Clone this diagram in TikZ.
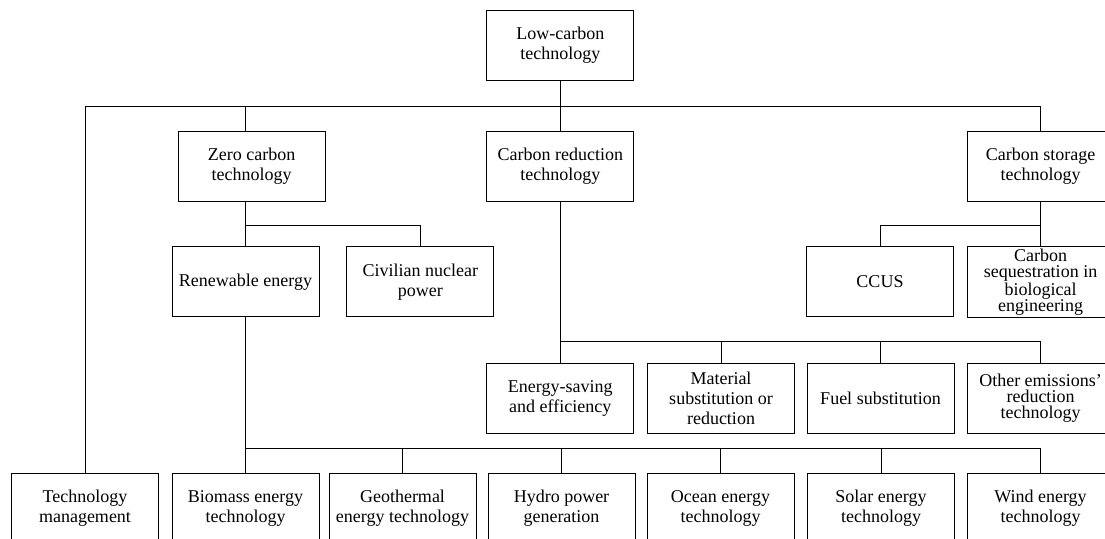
\documentclass[tikz,border=0pt]{standalone}
\usepackage{fontspec}
\setmainfont{Liberation Serif}
\begin{document}
\begin{tikzpicture}[x=0.5pt, y=-0.5pt, line width=0.5pt,
		box/.style={draw, rectangle, minimum width=73.5pt, minimum height=35pt, inner sep=1pt, align=center, font=\fontsize{9}{10}\selectfont},
		tight/.style={font=\fontsize{9}{8}\selectfont}]
		\useasboundingbox (0,0) rectangle (1105,539);
		\clip (0,0) rectangle (1105,539);
		% \draw[help lines, step=50] (0,0) grid (1105,539);

		% bus levels
		\coordinate (b1) at (0,106.7);
		\coordinate (b2) at (0,225.3);
		\coordinate (b3) at (0,341.7);
		\coordinate (b4) at (0,449);

		\node[box] (top) at (560.3,45.5) {Low-carbon\\technology};
		\node[box] (zero) at (251.7,166.7) {Zero carbon\\technology};
		\node[box] (cred) at (560.3,166.7) {Carbon reduction\\technology};
		\node[box] (cstor) at (1040.5,166.7) {Carbon storage\\technology};
		\node[box] (renew) at (245.5,282) {Renewable energy};
		\node[box] (civil) at (420.3,282) {Civilian nuclear\\power};
		\node[box] (ccus) at (880,282) {CCUS};
		\node[box, tight] (cseq) at (1040.5,282) {Carbon\\sequestration in\\biological\\engineering};
		\node[box] (esave) at (560.3,398.7) {Energy-saving\\and efficiency};
		\node[box] (mater) at (721,398.7) {Material\\substitution or\\reduction};
		\node[box] (fuel) at (880.5,398.7) {Fuel substitution};
		\node[box, tight] (other) at (1040.5,398.7) {Other emissions’\\reduction\\technology};
		\node[box] (tman) at (85,508.3) {Technology\\management};
		\node[box] (bio) at (245.5,508.3) {Biomass energy\\technology};
		\node[box] (geo) at (402.5,508.3) {Geothermal\\energy technology};
		\node[box] (hydro) at (561.5,508.3) {Hydro power\\generation};
		\node[box] (ocean) at (720.5,508.3) {Ocean energy\\technology};
		\node[box] (solar) at (881,508.3) {Solar energy\\technology};
		\node[box] (wind) at (1040.5,508.3) {Wind energy\\technology};

		\foreach \c in {tman, cred, cstor}
			\draw (top.south) -- (top.south |- b1) -| (\c.north);
		\draw (top.south |- b1) -| (renew.north |- zero.north);

		\draw (renew.north |- zero.south) -- (renew.north);
		\draw (renew.north |- b2) -| (civil.north);
		\foreach \c in {ccus, cseq}
			\draw (cstor.south) -- (cstor.south |- b2) -| (\c.north);

		\foreach \c in {esave, mater, fuel, other}
			\draw (cred.south) -- (cred.south |- b3) -| (\c.north);

		\foreach \c in {bio, geo, hydro, ocean, solar, wind}
			\draw (renew.south) -- (renew.south |- b4) -| (\c.north);
	\end{tikzpicture}
\end{document}
